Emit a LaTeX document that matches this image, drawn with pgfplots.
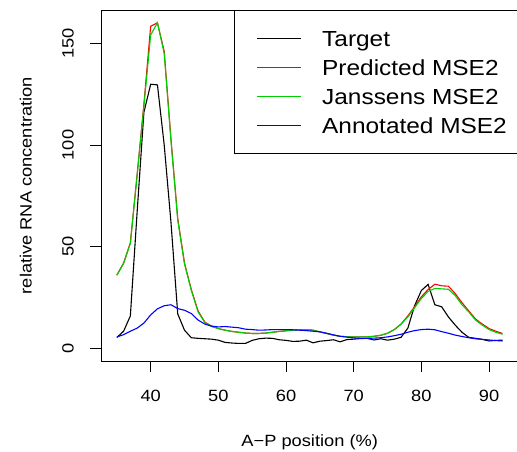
\documentclass[border=0pt]{standalone}
\usepackage{fontspec}
\setmainfont{Liberation Sans}[FakeStretch=1.12]
\usepackage{pgfplots}
\pgfplotsset{compat=1.18}
\usepackage{pgfplotstable}
\definecolor{rred}{RGB}{255,0,0}
\definecolor{rgreen}{RGB}{0,205,0}
\definecolor{rblue}{RGB}{0,0,255}
\pgfplotstableread{
x target pred jans annot
35 5.4 36 36 5.7
36 8.5 42 41.8 6.8
37 16 52 51.6 8.5
38 67 85.5 85 10
39 116 120 119 12.5
40 129.8 158.3 154 16.5
41 129.5 160 160 19.5
42 100 146 145 21
43 62 103 102 21.5
44 17 64 63 19.6
45 9 42 41.5 18.8
46 5.3 29 28.7 17.2
47 5 18.5 18 14
48 4.8 13 12.8 12
49 4.6 11 10.8 11
50 4.1 9.8 9.8 10.6
51 3 9 9 10.8
52 2.7 8.4 8.4 10.5
53 2.5 8 8 10.2
54 2.5 7.6 7.6 9.5
55 4 7.4 7.4 9.3
56 4.8 7.4 7.4 9
57 5.1 7.6 7.6 9.1
58 5 8 8 9.3
59 4.3 8.4 8.4 9.3
60 4 8.7 8.7 9.3
61 3.5 9 9 9.2
62 3.6 9.2 9.2 9
63 4.1 9.3 9.3 8.8
64 2.8 9 9 8.5
65 3.6 8.2 8.2 8.2
66 3.9 7.4 7.4 7.5
67 4.3 6.6 6.6 6.7
68 3.3 6 6 6
69 4.4 5.8 5.8 5.6
70 4.6 5.7 5.7 5.2
71 4.9 5.7 5.7 5
72 5 5.7 5.7 5
73 4.2 6 6 5.1
74 4.8 6.5 6.5 5.3
75 4.1 7.5 7.5 5.7
76 4.6 9.3 9.3 6.3
77 5.5 12 12 7
78 10 16 15.5 8
79 21 20.5 20 8.8
80 28.5 25.4 24.6 9.3
81 31.5 29 28 9.5
82 21.5 31.6 29.5 9.2
83 20.5 30.8 29.3 8.3
84 15.5 30.6 29.1 7.5
85 11.5 27 26 6.6
86 8 22.5 21.5 5.9
87 5.5 18.5 18 5.3
88 5 14.5 14 4.8
89 4.5 12 11.5 4.5
90 3.7 9.8 9.3 4.2
91 4 8.5 8 3.9
92 4.1 7.4 7 3.7
}\datatab
\begin{document}
\begin{tikzpicture}
\begin{axis}[
  scale only axis, width=416.6pt, height=351.4pt,
  xmin=32.72, xmax=94.28, ymin=-6.3, ymax=166.3,
  axis line style={line width=0.8pt},
  xtick={40,50,60,70,80,90}, ytick={0,50,100,150},
  tick align=outside, xtick pos=bottom, ytick pos=left,
  major tick length=11pt,
  tick style={line width=0.8pt, black},
  ticklabel style={font=\fontsize{16.3}{19}\selectfont},
  /pgf/number format/assume math mode=true,
  xticklabel style={inner sep=0pt, anchor=north, yshift=-17.7pt},
  yticklabel style={inner sep=0pt, xshift=-16.4pt, rotate=90, anchor=south},
  label style={font=\fontsize{16.3}{19}\selectfont},
  xlabel={A−P position (\%)},
  xlabel style={at={(axis description cs:0.5,-0.241)}, anchor=base},
  ylabel={relative RNA concentration},
  ylabel style={at={(axis description cs:-0.1673,0.5)}, anchor=base},
  legend style={at={(rel axis cs:1,1)}, anchor=north east,
    inner xsep=11pt, inner ysep=20.5pt, font=\fontsize{21.8}{26}\selectfont,
    nodes={inner sep=0pt, text height=15.7pt, text depth=0pt, anchor=west},
    row sep=13.2pt, /tikz/every odd column/.append style={column sep=21.7pt}},
  legend cell align=left,
  legend image code/.code={\path (0pt,0pt); \fill[#1, draw=none] (11pt,-0.65pt) rectangle (55pt,0.65pt);},
]
\addplot[color=black, line width=1.1pt] table[x=x,y=target] {\datatab};
\addlegendentry{Target}
\addplot[color=rred, line width=1.1pt] table[x=x,y=pred] {\datatab};
\addlegendentry{Predicted MSE2}
\addplot[color=rgreen, line width=1.1pt] table[x=x,y=jans] {\datatab};
\addlegendentry{Janssens MSE2}
\addplot[color=rblue, line width=1.1pt] table[x=x,y=annot] {\datatab};
\addlegendentry{Annotated MSE2}
\coordinate (bl) at (rel axis cs:0,0);
\coordinate (tr) at (rel axis cs:1,1);
\end{axis}
\pgfresetboundingbox
\path ([shift={(-101.4pt,-89.7pt)}]bl) rectangle ([shift={(-1pt,9.95pt)}]tr);
\end{tikzpicture}
\end{document}
